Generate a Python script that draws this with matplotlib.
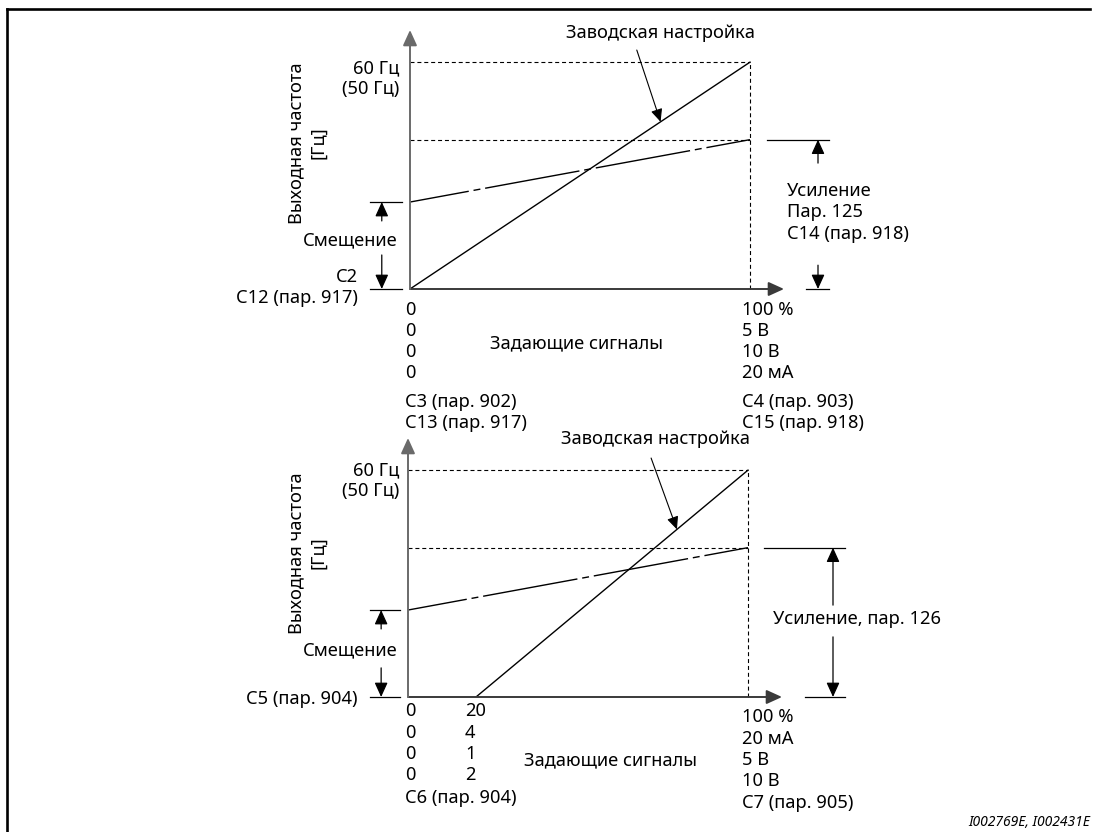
import numpy as np
import matplotlib
matplotlib.use("Agg")
import matplotlib.pyplot as plt
from matplotlib.lines import Line2D

W, H = 1095, 832
plt.rcParams['font.family'] = ['Noto Sans', 'DejaVu Sans']
FS = 13.2

# ---------------------- data ----------------------
signal_pct = [0, 100]            # set-point signal, % of full scale
factory_freq = [0, 60]           # factory setting, Hz
adjusted_freq = [23, 39.5]       # bias -> gain, Hz
signal_pct_4_20 = [20, 100]      # second chart: factory line starts at 20 %
factory_freq_4_20 = [0, 60]
f_max = 60

top_left_ticks = ["0", "0", "0", "0"]
top_right_ticks = ["100 %", "5 В", "10 В", "20 мА"]
top_left_params = ["C3 (пар. 902)", "C13 (пар. 917)"]
top_right_params = ["C4 (пар. 903)", "C15 (пар. 918)"]

bot_zero_ticks = ["0", "0", "0", "0"]
bot_start_ticks = ["20", "4", "1", "2"]
bot_right_ticks = ["100 %", "20 мА", "5 В", "10 В"]

fig = plt.figure(figsize=(W / 100, H / 100), dpi=100)


def put(px, py, s, **kw):
    kw.setdefault("fontsize", FS)
    return fig.text(px / W, 1 - py / H, s, **kw)


def arrow(ax, xy, xytext, lw=0.9, color="black", ms=16):
    ax.annotate("", xy=xy, xytext=xytext, annotation_clip=False,
                arrowprops=dict(arrowstyle="-|>,head_length=0.55,head_width=0.25",
                                color=color, lw=lw, mutation_scale=ms,
                                shrinkA=0, shrinkB=0))


def hline(ax, x0, x1, y, **kw):
    ax.plot([x0, x1], [y, y], clip_on=False, **kw)


def make_axes(x0px, y0px):
    # 100 % -> 340 px, 60 Hz -> 227 px
    ax = fig.add_axes([x0px / W, (H - y0px) / H, 374 / W, 259 / H])
    ax.set_xlim(0, 110)
    ax.set_ylim(0, 68.5)
    ax.axis("off")
    arrow(ax, (110, 0), (0, 0), lw=1.4, color="#3a3a3a", ms=17)
    arrow(ax, (0, 68.5), (0, 0), lw=1.4, color="#6a6a6a", ms=17)
    return ax


dash = dict(color="black", lw=0.8, ls=(0, (3.6, 2.6)), clip_on=False)
dashdot = (26, (69, 3.5, 5, 3.5))

# ---------------------- top chart ----------------------
ax1 = make_axes(410, 289)
ax1.plot(signal_pct, [f_max, f_max], **dash)
ax1.plot([100, 100], [0, f_max], **dash)
ax1.plot(signal_pct, [adjusted_freq[1]] * 2, **dash)
ax1.plot(signal_pct, factory_freq, color="black", lw=1.0)
ax1.plot(signal_pct, adjusted_freq, color="black", lw=1.0, ls=dashdot)

# bias marker
hline(ax1, -11.8, -2.4, adjusted_freq[0], color="black", lw=0.9)
hline(ax1, -11.8, -2.4, 0, color="black", lw=0.9)
arrow(ax1, (-8.3, adjusted_freq[0]), (-8.3, 18.0))
arrow(ax1, (-8.3, 0), (-8.3, 9.0))
# gain marker
hline(ax1, 105, 123.3, adjusted_freq[1], color="black", lw=0.9)
hline(ax1, 116.5, 123.3, 0, color="black", lw=0.9)
arrow(ax1, (120, adjusted_freq[1]), (120, 33.3))
arrow(ax1, (120, 0), (120, 6.3))
# factory setting pointer
tip = 73.7
arrow(ax1, (tip, np.interp(tip, signal_pct, factory_freq)), (66.7, 63.2), lw=0.8, ms=14)

put(661, 33, "Заводская настройка", ha="center", va="center")
put(399, 68, "60 Гц", ha="right", va="center")
put(399, 89, "(50 Гц)", ha="right", va="center")
put(307, 143, "Выходная частота\n[Гц]", rotation=90, ha="center", va="center",
    multialignment="center", linespacing=1.25)
put(398, 240, "Смещение", ha="right", va="center")
put(358, 277, "C2", ha="right", va="center")
put(358, 298, "C12 (пар. 917)", ha="right", va="center")
put(787, 191, "Усиление", ha="left", va="center")
put(787, 212, "Пар. 125", ha="left", va="center")
put(787, 234, "C14 (пар. 918)", ha="left", va="center")
for i, s in enumerate(top_left_ticks):
    put(405, 310 + 21 * i, s, ha="left", va="center")
for i, s in enumerate(top_right_ticks):
    put(742, 310 + 21 * i, s, ha="left", va="center")
for i, s in enumerate(top_left_params):
    put(405, 402 + 21 * i, s, ha="left", va="center")
for i, s in enumerate(top_right_params):
    put(742, 402 + 21 * i, s, ha="left", va="center")
put(577, 343, "Задающие сигналы", ha="center", va="center")

# ---------------------- bottom chart ----------------------
ax2 = make_axes(408, 697)
ax2.plot(signal_pct, [f_max, f_max], **dash)
ax2.plot([100, 100], [0, f_max], **dash)
ax2.plot(signal_pct, [adjusted_freq[1]] * 2, **dash)
ax2.plot(signal_pct_4_20, factory_freq_4_20, color="black", lw=1.0)
ax2.plot(signal_pct, adjusted_freq, color="black", lw=1.0, ls=dashdot)

hline(ax2, -11.2, -2.4, adjusted_freq[0], color="black", lw=0.9)
hline(ax2, -11.2, -2.4, 0, color="black", lw=0.9)
arrow(ax2, (-7.9, adjusted_freq[0]), (-7.9, 18.0))
arrow(ax2, (-7.9, 0), (-7.9, 7.7))
hline(ax2, 104.7, 128.5, adjusted_freq[1], color="black", lw=0.9)
hline(ax2, 116.8, 128.5, 0, color="black", lw=0.9)
arrow(ax2, (125, adjusted_freq[1]), (125, 24.3))
arrow(ax2, (125, 0), (125, 15.9))
tip = 79.1
arrow(ax2, (tip, np.interp(tip, signal_pct_4_20, factory_freq_4_20)), (71.5, 63.2), lw=0.8, ms=14)

put(656, 439, "Заводская настройка", ha="center", va="center")
put(399, 470, "60 Гц", ha="right", va="center")
put(399, 491, "(50 Гц)", ha="right", va="center")
put(307, 553, "Выходная частота\n[Гц]", rotation=90, ha="center", va="center",
    multialignment="center", linespacing=1.25)
put(398, 650, "Смещение", ha="right", va="center")
put(357, 699, "C5 (пар. 904)", ha="right", va="center")
put(773, 619, "Усиление, пар. 126", ha="left", va="center")
for i, s in enumerate(bot_zero_ticks):
    put(405, 711 + 21.5 * i, s, ha="left", va="center")
for i, s in enumerate(bot_start_ticks):
    put(465, 711 + 21.5 * i, s, ha="left", va="center")
put(405, 798, "C6 (пар. 904)", ha="left", va="center")
for i, s in enumerate(bot_right_ticks):
    put(742, 717 + 21.5 * i, s, ha="left", va="center")
put(742, 803, "C7 (пар. 905)", ha="left", va="center")
put(610, 760, "Задающие сигналы", ha="center", va="center")

# ---------------------- frame and id ----------------------
fig.add_artist(Line2D([7 / W, 1090 / W], [1 - 9 / H, 1 - 9 / H], color="black", lw=1.9))
fig.add_artist(Line2D([7 / W, 7 / W], [1 - 9 / H, 0], color="black", lw=1.9))
put(1090, 822, "I002769E, I002431E", ha="right", va="center", fontsize=10, style="italic")

fig.savefig("out.png", dpi=100)
